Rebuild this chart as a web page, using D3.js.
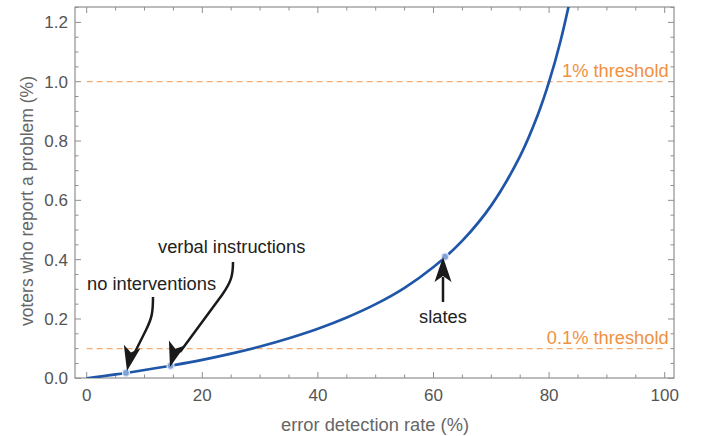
<!DOCTYPE html>
<html lang="en">
<head>
    <meta charset="utf-8">
    <title>Error detection rate</title>
    <style>
        body { margin: 0; background: #fff; }
        text { font-family: "Liberation Sans", Arial, sans-serif; }
    </style>
</head>
<body>
    <script src="https://cdnjs.cloudflare.com/ajax/libs/d3/7.9.0/d3.min.js"></script>
    <script>

    // values
    const rate = [0, 5, 10, 15, 20, 25, 30, 35, 40, 45, 50, 55, 60, 65, 70, 75, 78, 80, 82, 84];
    const voters = [0, 0.013, 0.028, 0.044, 0.062, 0.083, 0.107, 0.135, 0.167, 0.205, 0.25, 0.305, 0.375, 0.464, 0.583, 0.75, 0.886, 1.0, 1.139, 1.31];

    const interventions = ["no interventions", "verbal instructions", "slates"];
    const interventionRate = [6.8, 14.5, 62];
    const interventionVoters = [0.018, 0.042, 0.41];

    const thresholds = [1.0, 0.1];
    const thresholdLabels = ["1% threshold", "0.1% threshold"];

    const xTicks = [0, 20, 40, 60, 80, 100];
    const yTicks = [0, 0.2, 0.4, 0.6, 0.8, 1.0, 1.2];

    const width = 702, height = 436;
    const frame = {left: 75, right: 674, top: 7, bottom: 378};

    const x = d3.scaleLinear().domain([0, 100]).range([86.7, 664.7]);
    const y = d3.scaleLinear().domain([0, 1]).range([378.3, 81.7]);

    const svg = d3.select("body").append("svg")
        .attr("width", width)
        .attr("height", height);

    svg.append("defs").append("clipPath").attr("id", "plot")
        .append("rect")
        .attr("x", frame.left).attr("y", frame.top)
        .attr("width", frame.right - frame.left)
        .attr("height", frame.bottom - frame.top);

    // frame ticks, inward on all four sides
    const frameColor = "#8f8f8f";
    const minorX = d3.range(0, 101, 5);
    const minorY = d3.range(0, 1.26, 0.05);

    const ticks = svg.append("g").attr("stroke", frameColor).attr("stroke-width", 1);
    minorX.forEach(v => {
        const len = v % 20 === 0 ? 6 : 3.5;
        ticks.append("line").attr("x1", x(v)).attr("x2", x(v))
            .attr("y1", frame.bottom).attr("y2", frame.bottom - len);
        ticks.append("line").attr("x1", x(v)).attr("x2", x(v))
            .attr("y1", frame.top).attr("y2", frame.top + len);
    });
    minorY.forEach((v, i) => {
        const len = i % 4 === 0 ? 6 : 3.5;
        ticks.append("line").attr("y1", y(v)).attr("y2", y(v))
            .attr("x1", frame.left).attr("x2", frame.left + len);
        ticks.append("line").attr("y1", y(v)).attr("y2", y(v))
            .attr("x1", frame.right).attr("x2", frame.right - len);
    });

    svg.append("rect")
        .attr("x", frame.left).attr("y", frame.top)
        .attr("width", frame.right - frame.left)
        .attr("height", frame.bottom - frame.top)
        .attr("fill", "none")
        .attr("stroke", frameColor)
        .attr("stroke-width", 1.2);

    // tick labels
    svg.append("g").selectAll("text")
        .data(xTicks).enter().append("text")
        .attr("x", d => x(d))
        .attr("y", 401)
        .attr("text-anchor", "middle")
        .attr("font-size", 17)
        .attr("fill", "#555")
        .text(d => d);

    svg.append("g").selectAll("text")
        .data(yTicks).enter().append("text")
        .attr("x", 68)
        .attr("y", d => y(d) + 6)
        .attr("text-anchor", "end")
        .attr("font-size", 17)
        .attr("fill", "#555")
        .text(d => d.toFixed(1));

    svg.append("text")
        .attr("x", 375).attr("y", 431)
        .attr("text-anchor", "middle")
        .attr("font-size", 18.3)
        .attr("fill", "#666")
        .text("error detection rate (%)");

    svg.append("text")
        .attr("transform", "translate(33,201) rotate(-90)")
        .attr("text-anchor", "middle")
        .attr("font-size", 17.5)
        .attr("fill", "#666")
        .text("voters who report a problem (%)");

    // threshold lines
    const orange = "#f0913f";
    thresholds.forEach((t, i) => {
        svg.append("line")
            .attr("x1", x(0)).attr("x2", x(100))
            .attr("y1", y(t)).attr("y2", y(t))
            .attr("stroke", "#f7ad72")
            .attr("stroke-width", 1.3)
            .attr("stroke-dasharray", "6,4");
        svg.append("text")
            .attr("x", x(100) + 4)
            .attr("y", y(t) - 4.5)
            .attr("text-anchor", "end")
            .attr("font-size", 18.3)
            .attr("fill", orange)
            .text(thresholdLabels[i]);
    });

    // curve
    const line = d3.line()
        .x((d, i) => x(rate[i]))
        .y(d => y(d))
        .curve(d3.curveCatmullRom);

    svg.append("path")
        .datum(voters)
        .attr("clip-path", "url(#plot)")
        .attr("d", line)
        .attr("fill", "none")
        .attr("stroke", "#1f56a8")
        .attr("stroke-width", 2.7);

    svg.append("g").selectAll("circle")
        .data(interventionRate).enter().append("circle")
        .attr("cx", d => x(d))
        .attr("cy", (d, i) => y(interventionVoters[i]))
        .attr("r", 3.5)
        .attr("fill", "#7fa3d6")
        .attr("stroke", "#dce7f5")
        .attr("stroke-width", 1.2);

    // annotations
    const arrowPaths = [
        "M153,297 C153,312 152,318 146,330 L134,354",
        "M233,262 C233,276 231,282 222,295 L180,352",
        "M443,302 L443,277"
    ];
    const tips = [[127, 371], [170, 367], [443, 257]];
    const heads = [[131, 352], [175, 350], [443, 277]];

    arrowPaths.forEach(p => {
        svg.append("path")
            .attr("d", p)
            .attr("fill", "none")
            .attr("stroke", "#1a1a1a")
            .attr("stroke-width", 2.5);
    });

    tips.forEach((tip, i) => {
        const base = heads[i];
        const dx = tip[0] - base[0], dy = tip[1] - base[1];
        const len = Math.hypot(dx, dy);
        const ux = dx / len, uy = dy / len;
        const L = 25, W = 8.5;
        const bx = tip[0] - ux * L, by = tip[1] - uy * L;
        const nx = -uy, ny = ux;
        const notchX = tip[0] - ux * (L - 6), notchY = tip[1] - uy * (L - 6);
        svg.append("path")
            .attr("d", `M${tip[0]},${tip[1]} L${bx + nx * W},${by + ny * W} L${notchX},${notchY} L${bx - nx * W},${by - ny * W} Z`)
            .attr("fill", "#1a1a1a");
    });

    const labelPos = [[87, 290, "start"], [158, 253, "start"], [443, 323, "middle"]];
    interventions.forEach((name, i) => {
        svg.append("text")
            .attr("x", labelPos[i][0])
            .attr("y", labelPos[i][1])
            .attr("text-anchor", labelPos[i][2])
            .attr("font-size", 18.3)
            .attr("fill", "#222")
            .text(name);
    });

    </script>
</body>
</html>
